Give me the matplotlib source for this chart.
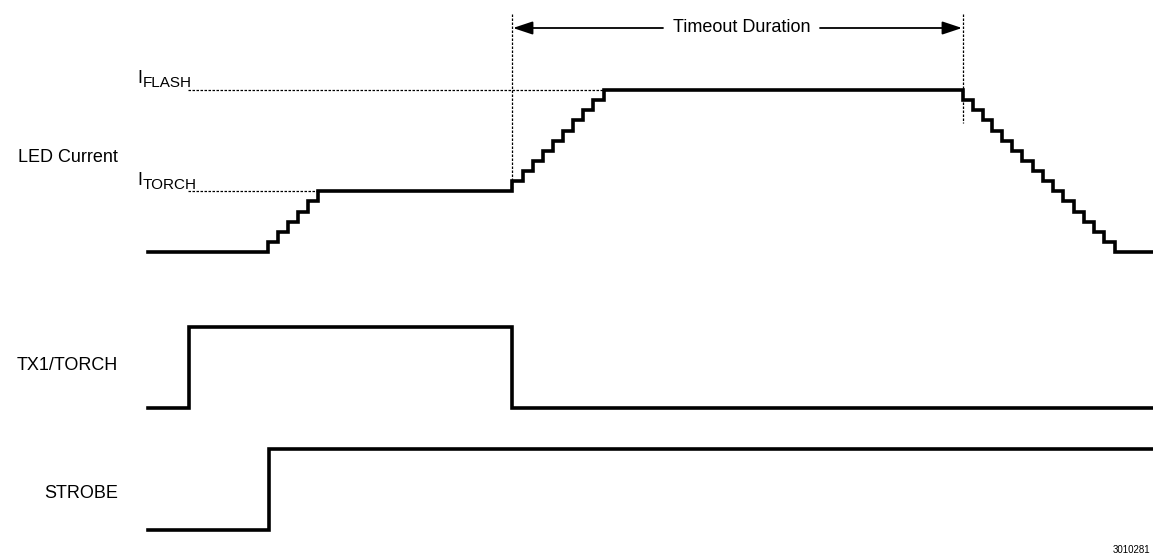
#!/usr/bin/env python3

import matplotlib

matplotlib.use("Agg")

import matplotlib.pyplot as plt

plt.rcParams["font.family"] = ["Liberation Sans", "DejaVu Sans"]

# LED current staircase (time in px-like units, level in DAC steps)
led_times = [148, 268, 278, 288, 298, 308, 318,
             512, 523, 533, 543, 553, 563, 573, 583, 593, 604,
             963, 973, 983, 992, 1002, 1012, 1022, 1033, 1043, 1053,
             1063, 1074, 1084, 1094, 1104, 1115, 1152]
led_levels = [0, 1, 2, 3, 4, 5, 6,
              7, 8, 9, 10, 11, 12, 13, 14, 15, 16,
              15, 14, 13, 12, 11, 10, 9, 8, 7, 6,
              5, 4, 3, 2, 1, 0, 0]
torch_level = 6
flash_level = 16

tx_times = [148, 189, 512, 1152]
tx_levels = [0, 1, 0, 0]

strobe_times = [148, 269, 1152]
strobe_levels = [0, 1, 1]

timeout_start = 512
timeout_end = 963

signal_names = ["LED Current", "TX1/TORCH", "STROBE"]
figure_id = "3010281"

# vertical placement of each trace (pixel rows)
LED_BASE, LED_STEP = 252, 10.125
TX_LOW, TX_HIGH = 408, 327
ST_LOW, ST_HIGH = 530, 449


def led_y(level):
    return LED_BASE - level * LED_STEP


def logic_y(levels, low, high):
    return [high if v else low for v in levels]


fig = plt.figure(figsize=(11.53, 5.58), dpi=100)
ax = fig.add_axes([0, 0, 1, 1])
ax.set_xlim(0, 1153)
ax.set_ylim(558, 0)
ax.axis("off")

lw = 2.6
ax.plot(led_times, [led_y(v) for v in led_levels], drawstyle="steps-post",
        color="black", linewidth=lw, solid_joinstyle="miter")
ax.plot(tx_times, logic_y(tx_levels, TX_LOW, TX_HIGH), drawstyle="steps-post",
        color="black", linewidth=lw, solid_joinstyle="miter")
ax.plot(strobe_times, logic_y(strobe_levels, ST_LOW, ST_HIGH), drawstyle="steps-post",
        color="black", linewidth=lw, solid_joinstyle="miter")

dot = dict(color="black", linewidth=0.9, linestyle=(0, (2.0, 1.2)))
ax.plot([188, 604], [led_y(flash_level)] * 2, **dot)
ax.plot([188, 319], [led_y(torch_level)] * 2, **dot)
ax.plot([timeout_start] * 2, [14, led_y(torch_level)], **dot)
ax.plot([timeout_end] * 2, [14, 123], **dot)

# timeout arrow
arrow_y = 28
arrow_props = dict(arrowstyle="-|>,head_length=1.2,head_width=0.4",
                   color="black", linewidth=1.3, mutation_scale=10,
                   shrinkA=0, shrinkB=0)
ax.annotate("", xy=(timeout_start + 1, arrow_y), xytext=(663, arrow_y),
            arrowprops=arrow_props)
ax.annotate("", xy=(timeout_end - 1, arrow_y), xytext=(820, arrow_y),
            arrowprops=arrow_props)
ax.text((663 + 820) / 2, arrow_y, "Timeout Duration", ha="center",
        va="center", fontsize=13)

# level labels
ax.text(137, 83, "I", fontsize=13, va="baseline", ha="left")
ax.text(143, 87, "FLASH", fontsize=11, va="baseline", ha="left")
ax.text(137, 185, "I", fontsize=13, va="baseline", ha="left")
ax.text(143, 189, "TORCH", fontsize=11, va="baseline", ha="left")

# signal names
for name, y in zip(signal_names, [158, 365, 493]):
    ax.text(118, y, name, fontsize=13, va="center", ha="right")

ax.text(1150, 550, figure_id, fontsize=7, va="center", ha="right")

fig.savefig("out.png", dpi=100)
plt.close(fig)
